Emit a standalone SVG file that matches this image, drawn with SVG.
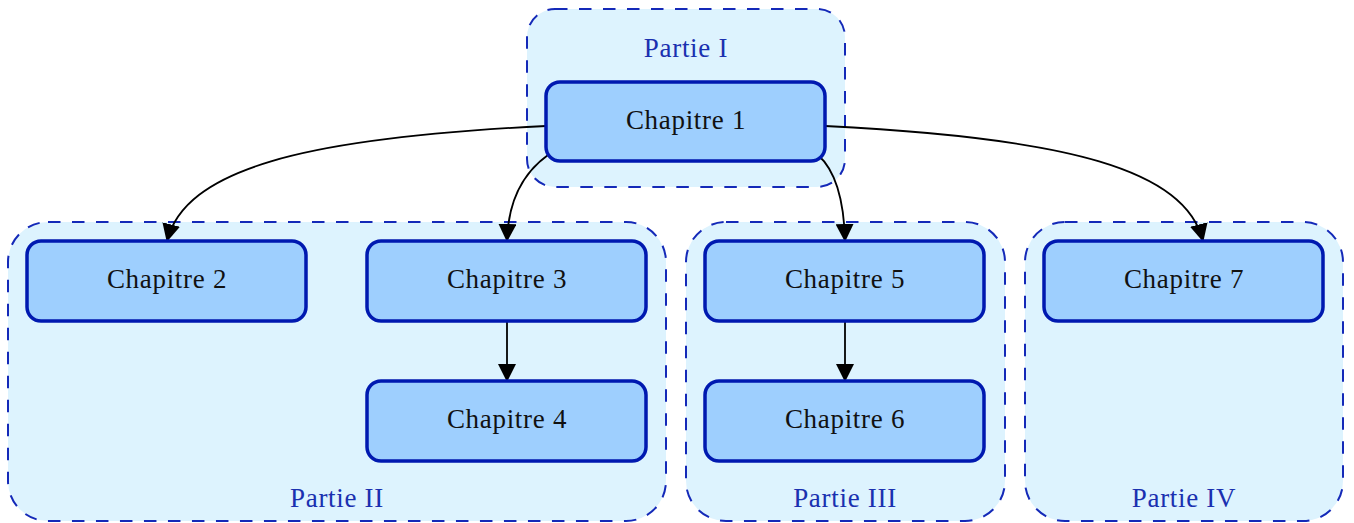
<svg xmlns="http://www.w3.org/2000/svg" width="1354" height="523" viewBox="0 0 1354 523">
<style>
.cluster{fill:#ddf3fe;stroke:#1429b8;stroke-width:2;stroke-dasharray:12.5,11.5}
.node{fill:#9ecffe;stroke:#0019b0;stroke-width:3.5}
.lbl{font-family:"Liberation Serif","DejaVu Serif",serif;font-size:27px;letter-spacing:0.7px;text-anchor:middle;fill:#111}
.plbl{font-family:"Liberation Serif","DejaVu Serif",serif;font-size:27px;letter-spacing:0.7px;text-anchor:middle;fill:#1a30b0}
.edge{fill:none;stroke:#000;stroke-width:1.8}
</style>
<defs>
<marker id="arr" viewBox="0 0 18 18" refX="17" refY="9" markerWidth="18" markerHeight="18" markerUnits="userSpaceOnUse" orient="auto">
<path d="M0,0 L18,9 L0,18 Z" fill="#000"/>
</marker>
</defs>
<g id="partie1">
<rect class="cluster" x="527" y="9" width="318" height="178" rx="28"/>
<text class="plbl" x="686" y="57">Partie I</text>
</g>
<g id="partie2">
<rect class="cluster" x="8" y="222" width="658" height="299" rx="40"/>
<text class="plbl" x="337" y="507">Partie II</text>
</g>
<g id="partie3">
<rect class="cluster" x="686" y="222" width="319" height="299" rx="40"/>
<text class="plbl" x="845" y="507">Partie III</text>
</g>
<g id="partie4">
<rect class="cluster" x="1025" y="222" width="318" height="299" rx="40"/>
<text class="plbl" x="1184" y="507">Partie IV</text>
</g>
<g id="edges">
<path class="edge" marker-end="url(#arr)" d="M546,126 C300,138 185,170 167,241"/>
<path class="edge" marker-end="url(#arr)" d="M548,155 C520,175 508,205 507,241"/>
<path class="edge" marker-end="url(#arr)" d="M818,155 C835,170 844,200 845,241"/>
<path class="edge" marker-end="url(#arr)" d="M825,126 C1070,138 1185,170 1203,241"/>
<path class="edge" marker-end="url(#arr)" d="M507,321 L507,381"/>
<path class="edge" marker-end="url(#arr)" d="M845,321 L845,381"/>
</g>
<g id="ch1"><rect class="node" x="546" y="82" width="279" height="79" rx="14"/><text class="lbl" x="686" y="129">Chapitre 1</text></g>
<g id="ch2"><rect class="node" x="27" y="241" width="279" height="80" rx="14"/><text class="lbl" x="167" y="288">Chapitre 2</text></g>
<g id="ch3"><rect class="node" x="367" y="241" width="279" height="80" rx="14"/><text class="lbl" x="507" y="288">Chapitre 3</text></g>
<g id="ch4"><rect class="node" x="367" y="381" width="279" height="80" rx="14"/><text class="lbl" x="507" y="428">Chapitre 4</text></g>
<g id="ch5"><rect class="node" x="705" y="241" width="279" height="80" rx="14"/><text class="lbl" x="845" y="288">Chapitre 5</text></g>
<g id="ch6"><rect class="node" x="705" y="381" width="279" height="80" rx="14"/><text class="lbl" x="845" y="428">Chapitre 6</text></g>
<g id="ch7"><rect class="node" x="1044" y="241" width="279" height="80" rx="14"/><text class="lbl" x="1184" y="288">Chapitre 7</text></g>
</svg>
